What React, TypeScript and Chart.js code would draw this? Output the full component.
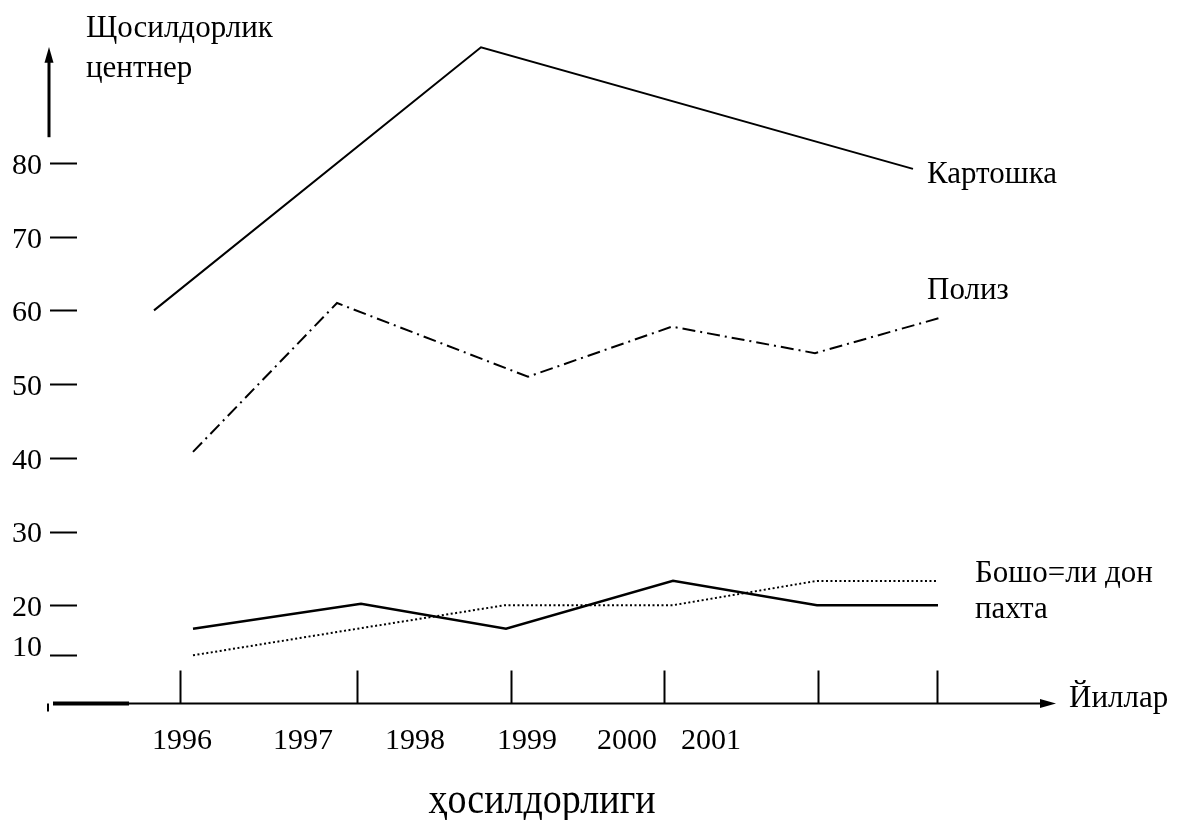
import React, { useEffect, useRef } from "react";
import { Chart, registerables } from "chart.js";

Chart.register(...registerables);

// ---- data (x in position units along the drawn time axis, y in центнер) ----
const potatoX = [11.4, 44.1, 87.3];
const potatoY = [60.0, 95.7, 79.2];

const melonX = [15.3, 29.7, 48.8, 63.2, 77.5, 90.3];
const melonY = [40.8, 61.0, 51.0, 57.8, 54.2, 59.1];

const cottonX = [15.3, 32.1, 46.6, 63.3, 77.7, 89.8];
const cottonY = [16.8, 20.2, 16.8, 23.3, 20.0, 20.0];

const grainX = [15.3, 31.7, 46.5, 63.3, 77.7, 89.8];
const grainY = [13.2, 16.8, 20.0, 20.0, 23.3, 23.3];

const yTickLabels = ["80", "70", "60", "50", "40", "30", "20", "10"];
const yTickMarkValues = [80, 70, 60, 50, 40, 30, 20, 13.2];
const yTickLabelValues = [80, 70, 60, 50, 40, 30, 20, 14.6];

const xTickPositions = [14, 31.7, 47.1, 62.4, 77.8, 89.7];
const yearLabels = ["1996", "1997", "1998", "1999", "2000", "2001"];
const yearLabelPositions = [14.2, 26.3, 37.5, 48.7, 58.7, 67.1];

const FONT = '"Liberation Serif", "Times New Roman", serif';

const decorPlugin = {
  id: "decor",
  afterDraw(chart: any) {
    const ctx = chart.ctx as CanvasRenderingContext2D;
    const xs = chart.scales.x;
    const ys = chart.scales.y;
    const px = (v: number) => xs.getPixelForValue(v);
    const py = (v: number) => ys.getPixelForValue(v);
    ctx.save();
    ctx.strokeStyle = "#000";
    ctx.fillStyle = "#000";
    ctx.lineCap = "butt";

    // y axis arrow
    const ax = px(0.9);
    ctx.lineWidth = 3;
    ctx.beginPath();
    ctx.moveTo(ax, py(83.5));
    ctx.lineTo(ax, py(94));
    ctx.stroke();
    ctx.beginPath();
    ctx.moveTo(ax, py(95.75));
    ctx.lineTo(ax - 4.5, py(93.6));
    ctx.lineTo(ax + 4.5, py(93.6));
    ctx.closePath();
    ctx.fill();

    // y ticks and labels
    ctx.lineWidth = 2;
    ctx.font = "30px " + FONT;
    ctx.textAlign = "right";
    ctx.textBaseline = "middle";
    yTickMarkValues.forEach((v, i) => {
      const y = Math.round(py(v)) + 0.5;
      ctx.beginPath();
      ctx.moveTo(px(1.0), y);
      ctx.lineTo(px(3.7), y);
      ctx.stroke();
      ctx.fillText(yTickLabels[i], px(0.2), py(yTickLabelValues[i]) + 3);
    });

    // x axis
    const axisV = 6.73;
    const yA = Math.round(py(axisV)) + 0.5;
    ctx.lineWidth = 2;
    ctx.beginPath();
    ctx.moveTo(px(1.3), yA);
    ctx.lineTo(px(100), yA);
    ctx.stroke();
    ctx.beginPath();
    ctx.moveTo(px(101.6), yA);
    ctx.lineTo(px(100), yA - 4.5);
    ctx.lineTo(px(100), yA + 4.5);
    ctx.closePath();
    ctx.fill();
    // thick segment at left
    ctx.lineWidth = 4;
    ctx.beginPath();
    ctx.moveTo(px(1.3), yA);
    ctx.lineTo(px(8.9), yA);
    ctx.stroke();
    // small mark
    ctx.lineWidth = 2;
    ctx.beginPath();
    ctx.moveTo(px(0.8), yA);
    ctx.lineTo(px(0.8), yA + 8);
    ctx.stroke();
    // vertical ticks
    xTickPositions.forEach((v) => {
      const x = Math.round(px(v)) + 0.5;
      ctx.beginPath();
      ctx.moveTo(x, yA - 33);
      ctx.lineTo(x, yA);
      ctx.stroke();
    });

    // year labels
    ctx.textAlign = "center";
    ctx.textBaseline = "alphabetic";
    yearLabels.forEach((t, i) => {
      ctx.fillText(t, px(yearLabelPositions[i]), yA + 45);
    });

    // texts
    ctx.font = "31px " + FONT;
    ctx.textAlign = "left";
    const texts = [
      { t: "Щосилдорлик", x: 4.6, y: 97.1 },
      { t: "центнер", x: 4.6, y: 91.7 },
      { t: "Картошка", x: 88.7, y: 77.3 },
      { t: "Полиз", x: 88.7, y: 61.6 },
      { t: "Бошо=ли дон", x: 93.5, y: 23.15 },
      { t: "пахта", x: 93.5, y: 18.26 },
      { t: "Йиллар", x: 102.9, y: 6.19 },
    ];
    texts.forEach((o) => ctx.fillText(o.t, px(o.x), py(o.y)));

    // bottom caption (slightly taller glyphs, as in the scan)
    ctx.font = "38px " + FONT;
    ctx.textAlign = "center";
    ctx.save();
    ctx.translate(px(50.2), py(-8.2));
    ctx.scale(1, 1.15);
    ctx.fillText("ҳосилдорлиги", 0, 0);
    ctx.restore();
    ctx.restore();
  },
};

const pts = (xs: number[], ys: number[]) => xs.map((x, i) => ({ x, y: ys[i] }));

export default function App() {
  const ref = useRef<HTMLCanvasElement | null>(null);
  useEffect(() => {
    if (!ref.current) return;
    const chart = new Chart(ref.current, {
      type: "line",
      data: {
        datasets: [
          {
            label: "Картошка",
            data: pts(potatoX, potatoY),
            borderColor: "#000",
            borderWidth: 2,
            pointRadius: 0,
            tension: 0,
            clip: false,
          },
          {
            label: "Полиз",
            data: pts(melonX, melonY),
            borderColor: "#000",
            borderWidth: 2,
            borderDash: [13, 5, 2, 5],
            pointRadius: 0,
            tension: 0,
            clip: false,
          },
          {
            label: "пахта",
            data: pts(cottonX, cottonY),
            borderColor: "#000",
            borderWidth: 2.5,
            pointRadius: 0,
            tension: 0,
            clip: false,
          },
          {
            label: "Бошоқли дон",
            data: pts(grainX, grainY),
            borderColor: "#000",
            borderWidth: 2,
            borderDash: [2, 2.5],
            pointRadius: 0,
            tension: 0,
            clip: false,
          },
        ],
      },
      options: {
        animation: false,
        responsive: false,
        events: [],
        layout: { padding: { left: 40, right: 148, top: 15.6, bottom: 67.4 } },
        plugins: { legend: { display: false }, tooltip: { enabled: false } },
        scales: {
          x: { type: "linear", min: 0, max: 100, display: false },
          y: { type: "linear", min: 0, max: 100, display: false },
        },
      },
      plugins: [decorPlugin],
    } as any);
    return () => chart.destroy();
  }, []);
  return (
    <div style={{ position: "absolute", left: 0, top: 0, width: 1188, height: 820, background: "#fff" }}>
      <canvas ref={ref} width={1188} height={820} style={{ display: "block" }} />
    </div>
  );
}
